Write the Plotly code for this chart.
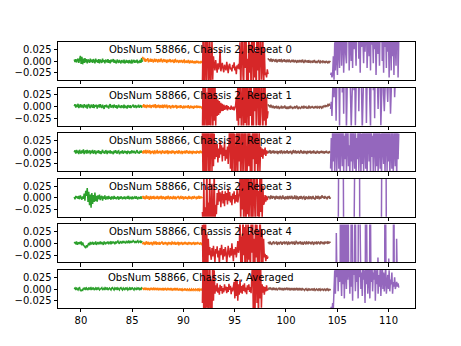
import numpy as np
import plotly.graph_objects as go
from plotly.subplots import make_subplots

# segment boundaries along x
SEG_BOUNDS = [79.35, 86.0, 91.85, 98.25, 104.35, 111.0]
SEG_COLORS = ["#2ca02c", "#ff7f0e", "#d62728", "#8c564b", "#9467bd"]
TITLES = ["ObsNum 58866, Chassis 2, Repeat 0", "ObsNum 58866, Chassis 2, Repeat 1",
          "ObsNum 58866, Chassis 2, Repeat 2", "ObsNum 58866, Chassis 2, Repeat 3",
          "ObsNum 58866, Chassis 2, Repeat 4", "ObsNum 58866, Chassis 2, Averaged"]
X_TICKS = [80, 85, 90, 95, 100, 105, 110]
Y_TICKS = [-0.025, 0.0, 0.025]
Y_TICK_TEXT = ["\u22120.025", "0.000", "0.025"]

# values in units of 1e-3
G0 = [3, -2, 4, -3, 2, 5, -4, 8, 11, -6, 9, -7, 5, -4, 6, -3, 4, -5, 3, 1, -4, 5, -2, 3, -4, 4, 0, -5, 5, -2, 2, -4, 4, -5, 3, -1, -4, 5, -2, 2, -5, 3, 0, -3, 4, -4, 2, -5, 3, -2, 1, 4, -4, 2, -3, -5, 3, 0, -4, 2, -3, -5, 2, -1, -4, 3, -5, -2, 2, -4, 1, -5, 2, -3, -4, 3, -5, 0, 2, -4, 1, -3, 3, -5, 0, -2, 2, -4, 6, -2]
O0 = [9, 4, 7, -1, 5, -2, 4, 1, 6, -3, 3, -1, 5, -2, 4, 2, -3, 3, 5, -2, 2, 4, -1, -3, 4, 1, -2, 3, 5, -1, -3, 2, 4, -2, 0, 3, -4, 2, 3, -2, 0, 4, -3, 2, -2, 3, -1, -4, 2, 3, -3, 0, 2, -2, -4, 2, -1, -3, 2, -2, -4, 1, 2, -3, -2, 1, -4, -2, 2, -3, -5, 0, -1, -4, 1, -3, -2, -5, 0, -3, -1, -4, 0, -2, -5, -1, -3, 0, -4, -2]
R0 = [-50, 70, -90, 40, 85, -70, 20, 95, -60, -20, 60, -85, 30, 50, -40, 10,
      -8, -20, 2, -15, -25, -5, -18, -10, 25, -22, -12, -4, -16, -24, -8, -14, -20, -2, -12, -26, -10, -6, -18, -14, -22, -8, -15, -3, -20, -12, -28, -9, -16, -6, -18,
      40, -60, 15, 80, -30, -55, 70, -15, 90, -45, 5, -80, 60, -25, 35, -70, 85, -10, -50, 65, -35, 20, -90, 75, -20, 50, -65, 10, 80, -40, -15, 55, -75, 30, -30,
      -25, -35, -18, -28]
B0 = [6, 2, 4, -1, 5, 1, -2, 4, 0, 3, -2, 4, 1, -3, 3, -1, 4, -2, 2, 3, -3, 2, -1, 4, -2, 2, -3, 3, 0, -2, 3, 1, -3, 0, 2, -2, 3, -3, 0, 2, -2, -4, 2, -1, -3, 2, -2, 0, -3, 3, -2, -4, 0, 2, -3, -1, 1, -4, 2, -2, -3, 0, -1, -4, 1, -3, 2, -2, -4, 0, -3, -1, 2, -3, -4, 0, -2, -3, 1, -2, -4, 0, -3, -1, -2, -4, 0, -3, -1, -2]
P0 = [-30, -25, -35, -28, 10, -40, 40, -20, 70, 5, -30, 90, 20, -15, 60, 110, -10, 45, 80, -25, 30, 100, 15, -5, 70, 50, 120, -20, 35, 85, 0, 60, -15, 95, 25, 140, 40, -10, 75, 55, 110, 5, 65, -25, 90, 30, 130, 45, -5, 80, 20, 60, 100, -15, 50, 85, 10, 70, -20, 120, 35, 55, -5, 90, 25, 75, -30, 45, 105, 15, 65, -10, 85, 40, 130, 0, 55, -25, 95, 30, 70, -15, 110, 20, 60, -35, 80, 45, -20, 100, 10, 65, -30, 90, 40, -10, 75, 120, -35, 50]

G1 = [1, 5, -2, 4, -1, 6, -3, 3, 5, -2, 4, 0, -3, 5, 1, -2, 4, -4, 3, 5, -1, -3, 4, 1, -2, 5, -3, 3, 0, 4, -4, 2, 3, -2, 5, 0, -3, 4, 1, -5, 3, -1, 4, -2, 2, -4, 3, 5, -2, 0, 3, -3, 4, 1, -2, 3, -4, 0, 4, -2, 2, -3, 3, -1, -2, 4, -3, 2, 0, -4, 3, 1, -2, 3, -3, 0, 2, 4, -2, 1, 3, -3, 2, -1, 4, -2, 1, 3, -1, 0]
O1 = [3, -1, 5, -2, 3, 1, -3, 4, -1, 3, -2, 4, 1, -3, 3, -1, 4, -2, 2, 5, -3, 0, 3, -2, 4, 1, -3, 3, -1, -2, 4, -3, 2, 3, -2, 0, 4, -4, 2, -1, 3, -2, -3, 2, 0, 3, -3, 2, -2, 1, 3, -4, 2, -2, 0, 2, -3, 3, -2, 0, -4, 2, -1, -3, 2, -2, 1, -3, 3, -2, -4, 0, 2, -3, 1, -2, -4, 2, -2, 0, 1, -3, 2, -2, 0, -3, 1, -1, -3, 0]
R1 = [-60, 80, -90, 50, 95, -70, 30, -85, 65, -40, 90, -55, 20, 75, -80, 45, -30, 60, -45, 25, -20,
      15, -18, 12, -14, 8, -10, 6, -9, 4, -7, 2, -6, 3, -8, 1, -5, -2, -7, 2, -4, -6, 0, -8, -3, 3,
      20, -30, 45, -60, 85, -25, 70, -90, 15, 60, -50, 95, -35, 40, -75, 80, 10, -65, 55, -20, 90, -45, 30, -85, 65, -10, 75, -55, 25, 85, -40, 50, -70, 35, 95, -15, -60, 70, -30, 45, -80, 20, -25, -10]
B1 = [5, 1, 3, -2, 4, 0, -3, 2, -2, -4, 1, -3, 2, -4, -1, 0, -5, -1, -3, 2, -4, 0, -3, -1, 2, -4, -2, -5, 0, -3, -1, -4, 2, -3, 0, -5, -1, -3, 1, -4, -2, 2, -3, -5, 0, -2, -4, -3, 1, -1, -4, 2, -3, -1, 0, -4, -2, -3, 2, -1, -4, 0, -3, 1, -2, -4, -1, -3, 1, -2, -4, 0, -2, -3, 1, -1, -3, 0, -2, 1, 0, 2, -1, 3, 1, 4, 2, 5, 3, 4]
P1 = [-5, 10, -20, 40, 80, 20, 110, 60, -30, 90, 130, 45, 75, -45, 100, 55, 140, 30, 85, -15, 120, 65, 95, -50, 70, 110, 40, 135, 80, 20, -45, 90, 60, 125, 35, 100, -40, 75, 115, 50, 140, -10, 85, 60, 120, 30, -50, 95, 70, 130, 45, 105, -35, 80, 140, 55, 95, 10, -45, 120, 65, 100, 35, 85, -25, 130, 75, 110, 50, -5, 90, 140, 60, -40, 105, 80, 125, 25, -10, 95, 70, 115, 40, 10, 85, 130, 55, -15, 100, 75, 120, 45, 90, 20, 110, 65, 135, 50, 80, 60]

G2 = [0, 4, -3, 5, -2, 3, -4, 5, 0, -3, 4, -2, 6, -4, 2, 3, -3, 5, -2, 0, 4, -4, 3, -2, 5, -3, 2, 4, -4, 0, 3, -2, 4, -3, 2, -4, 3, 5, -2, 0, -3, 4, 2, -4, 3, 0, -2, 4, -3, 2, 0, -4, 3, -2, 4, 0, -3, 2, 3, -4, 0, 2, -2, 4, -3, 0, 3, -2, 2, -4, 3, 0, -2, 2, -3, 4, 0, -2, 3, 0, -3, 2, 4, -2, 1, -3, 3, -1, 2, 0]
O2 = [2, -3, 4, 0, -2, 5, -3, 2, 3, -2, 0, 4, -4, 2, -2, 3, 0, -4, 4, 2, -2, 0, 5, -3, 2, -2, 3, 0, -4, 2, 4, -2, 0, -3, 3, -2, 2, 4, -4, 3, -2, 2, 0, -3, 4, -2, 3, 0, -4, 2, -2, 3, 0, -3, 4, 2, -2, 0, 3, -4, 2, 0, -2, 3, -3, 2, 4, -2, 0, -3, 3, -2, 2, 0, -4, 3, 0, -2, 2, 0, -3, 3, -1, 2, -3, 1, 3, -2, 0, 2]
R2 = [45, -80, 95, -60, 70, -90, 35, 85, -50, 60, -75, 25, 90, -40, 55, -30, 40,
      -15, 20, -10, 18, -22, 8, -12, 25, -5, 15, -20, 10, -8, 22, -18, 5, -14, 12, -25, 30,
      60, -35, 80, -70, 20, 95, -55, 40, -90, 15, 70, -45, 85, -20, 50, -80, 30, 90, -60, 10, 75, -40, 55, -95, 25, 65, -30, 85, -50, 35, -75, 90, -15, 45, -85, 60, -25, 80, -65, 20, 50, -40,
      12, -10, 8, -14, 6, -5, 10, -8, 4, -3, 2]
B2 = [3, -2, 2, 4, -3, 0, 3, -2, 4, -3, 2, 0, -2, 3, -4, 2, 0, 3, -3, 4, 2, -2, 0, 3, -3, 2, -2, 4, 0, -3, 2, -2, 3, 0, -4, 2, 3, -2, 0, 4, -3, 2, -2, 3, 0, -3, 2, 4, -2, 0, -3, 3, -2, 2, 0, -4, 3, -2, 2, 0, 3, -3, 0, 2, -2, 4, -2, 0, -3, 2, 3, -2, 0, -3, 2, 0, 3, -2, 2, 0, -3, 2, 0, 3, -2, 1, -3, 2, 0, 1]
P2 = [-35, 30, -45, 55, -20, 70, -50, 25, 90, -40, 10, 65, -35, 45, -55, 80, 20, -30, 60, -45, 35, -15, 95, -50, 25, 70, -30, 15, -55, 85, -20, 45, -45, 60, 0, -35, 75, -50, 30, -15, 65, -40, 20, 100, -55, 40, -25, 55, -45, 80, 10, -35, 60, -50, 25, 90, -20, 45, -55, 70, -10, 35, -45, 85, 15, -40, 55, -30, 75, -50, 20, 60, -35, 40, -55, 95, 5, -25, 65, -45, 30, 80, -40, 50, -20, 70, -50, 15, 60, -35, 85, -45, 25, 55, -30, 45, -55, 75, -15, 40]

G3 = [2, -3, 4, 0, 3, -2, 4, -3, 5, 1, -4, 3, -2, 9, -6, 15, 4, 21, -9, 13, -16, 7, -21, 10, -13, 6, -9, 11, -7, 4, -8, 5, -3, 7, -5, 2, 4, -6, 3, -2, 5, -4, 0, 3, -3, 4, -2, 2, -4, 3, 0, -3, 4, -2, 2, -3, 0, 3, -4, 2, -2, 3, 0, -3, 2, -2, 3, -3, 0, 2, -2, 4, -3, 0, 2, -3, 3, -2, 0, 2, -2, 3, -1, -3, 2, 0, -2, 3, -1, 0]
O3 = [0, 4, -2, 3, -3, 2, 5, -2, 0, 3, -4, 2, 4, -3, 0, 3, -2, 4, -3, 0, 2, -2, 4, 0, -3, 3, -2, 2, 4, -3, 0, 3, -2, 2, -4, 3, 0, -2, 4, 2, -3, 0, 3, -2, 2, -3, 4, 0, -2, 3, -3, 2, 0, 4, -2, -3, 2, 3, -2, 0, 3, -4, 2, 0, 3, -2, 2, -3, 0, 4, -2, 2, 0, -3, 3, 0, -2, 4, 0, 2, -3, 3, -2, 1, 4, -2, 0, 3, -1, 2]
R3 = [-30, -70, 40, -95, -20, -60, 80, -85, -10, -50, 55, -90, -25, 30, -75, -40, 65, -55, -15, -35,
      10, -15, 18, -8, 12, -20, 5, 15, -12, 8, -18, 14, -5, 10, -14, 20, -6, 12, -10, 4, -16, 9, -3, 14, -12, 6, -8, 18, -10, 3, 12,
      40, -55, 75, -25, 95, -80, 20, 65, -90, 45, -35, 85, -60, 10, 70, -45, 55, -95, 30, 80, -20, -70, 50, 90, -40, 15, -85, 60, -30, 75, -50, 25, -15,
      -10, 6, -8, 4, -5, 2]
B3 = [4, 0, 3, -3, 5, 2, -2, 4, 0, 3, -4, 2, 4, -2, 3, 0, -3, 4, 2, -3, 0, 5, -2, 2, -4, 3, 0, -2, 4, -3, 2, 3, -2, 0, 4, -3, 2, -2, 5, 0, -3, 3, 2, -4, 0, 3, -2, 4, 0, -3, 2, 3, -2, -4, 3, 0, 2, -3, 4, -2, 0, 3, -3, 2, 4, -2, 0, -4, 3, 2, -2, 4, 0, -3, 3, -2, 2, 5, 0, 3, -2, 4, -1, 2, -3, 3, 0, 4, -2, 1]
P3 = [-280, -310, -260, -300, -290, -270, -320, -300, -285, -310, -275,
      290, 310, 280, 300, 320, 295, 285,
      -300, -320, -280, -260, -300, -310, -270, -295, -315, -280, -300, -265, -305, -290, -310,
      -27,
      300, 320, 290, 310, 280, 305, 295,
      -300, -280, -310, -290, -260, -300, -320, -280, -300, -270, -310, -290, -300, -280, -260, -305, -295, -315, -285, -300, -270, -310, -290, -300, -280, -320, -300, -275, -295, -310,
      300, 310, 290, 320, 285, 305, 295,
      -300, -280, -310, -290, -270, -300, -320, -285, -295, -310, -275, -300, -290, -315, -280, -300, -305, -290]

G4 = [0, 3, -2, 4, -3, 2, 0, 3, -2, 4, -4, 2, -3, -6, -8, -10, -4, -8, -3, 1, -4, 3, -2, 0, 3, -3, 2, -2, 4, -3, 0, 3, -2, 2, 4, -2, 3, 0, -3, 4, 2, -2, 3, 0, 4, -2, 2, 3, -2, 4, 0, 3, 2, -2, 4, 0, 3, 5, 1, -1, 4, 3, 0, 5, 1, 4, 2, 0, 5, 3, 1, 6, 2, 4, 1, 5, 2, 6, 3, 2, 5, 1, 4, 6, 2, 3, 5, 1, 4, 3]
O4 = [2, -2, 3, 0, -3, 2, 4, -2, 0, 3, -3, 2, -2, 3, 0, -4, 2, 3, -2, 0, 4, -3, 2, 0, -2, 3, -3, 2, 0, 4, -2, -3, 2, 0, 3, -2, 2, -4, 0, 3, -2, 2, 0, -3, 3, 2, -2, 0, 3, -3, 2, -2, 0, 3, -4, 2, 0, -2, 3, 0, -3, 2, -2, 3, 0, -2, 2, -3, 0, 3, -2, 2, 0, -3, 2, -2, 3, 0, -3, 2, 0, -2, 3, -1, 1, -3, 2, 0, -2, 1]
R4 = [40, -90, 70, -60, 85, -40, 20, -75, 10,
      -25, -8, -20, -35, -10, -28, -5, -18, -40, -12, -22, -6, -30, -15, -45, -10, -25, -3, -20, -35, -12, -28, -8, -18, -42, -15, -5, -22, -30, -10, -26, 0, -18, -38, -12, -24, -8, -30, -16, 5, -20, -10,
      60, -40, 15, -70, 80, -25, 35, -90, 50, -10, -60, 75, -35, 20, -80, 45, -20, 90, -55, 10, -85, 65, -30, 40, -70, 25, -50, 85, -15, -65, 30, -45, 10,
      -30, -22, -38, -25, -33, -28]
B4 = [0, 3, -2, 4, 1, -3, 0, 3, 4, -2, 2, 0, 4, -3, 2, 3, -2, 0, 4, 1, -3, 3, 0, 4, -2, 2, 3, 0, -3, 4, 2, -2, 3, 0, 4, -2, 2, 3, -3, 0, 4, 2, -2, 3, 0, 2, 4, -2, 0, 3, -3, 2, 4, 0, -2, 3, 2, -2, 4, 0, 3, -2, 2, 4, 0, -3, 3, 2, 0, 4, -2, 2, 3, 0, -2, 4, 2, 0, 3, 1, -2, 4, 0, 2, 3, -1, 4, 1, 2, 3]
P4 = [-300, -280, -310, -290, -270, -300, -320, -285,
      22,
      -300, -290, -310, -280, -300,
      300, -300, 280, -260, 310, -290, 270, -310, 300, -280, 290, -300,
      -310, -290, -270, 300, -300, -280, -310, -290, 280, -300, -320, -285, -295, 300,
      -310, -275, -300, -290, -315, -280, -300, -305, -290, 300,
      -300, -280, -310, -290, -270, 250,
      -300, -320, -280, -300, -270, -310, -290, -300, -280, -260, -30,
      -305, -295, -315, -285, -300, -270, -310, -290, -300, 300,
      -280, -320, -300, -275, -32,
      -295, -310, -300, -280, -310, -290, 300,
      -300, -280, -310, 10, -290, -300, -285]

G5 = [0, 2, -2, 3, 0, -2, 2, 3, -3, -4, -2, -3, 2, 0, 3, -2, 2, 0, -2, 3, 0, 2, -2, 2, 0, 3, -2, 0, 2, -2, 3, 0, 2, -2, 0, 2, 3, -2, 0, 2, -2, 2, 0, 3, -2, 0, 2, 0, -2, 2, 3, 0, -2, 2, 0, 3, -2, 2, 0, -2, 2, 3, 0, -2, 2, 0, -2, 3, 0, 2, -2, 0, 2, -2, 3, 0, 2, 0, -2, 2, 1, -2, 2, 0, 3, -1, 1, -2, 2, 0]
O5 = [0, 2, -2, 0, 3, -2, 2, 0, -2, 2, 0, -3, 2, 0, 2, -2, 0, 3, -2, 0, 2, -2, 0, 2, -3, 0, 2, -2, 0, -2, 2, -3, 0, -2, 2, 0, -3, 0, 2, -2, 0, -2, 2, -3, 0, -2, 0, -2, 2, -3, 0, -2, 2, -3, -1, 0, -3, 1, -2, 0, -3, -1, 0, -3, 1, -2, -3, 0, -1, -3, 0, -2, -4, 0, -1, -3, 0, -2, -3, 0, -1, -3, 1, -2, 0, -3, -1, 0, -2, -1]
R5 = [-30, 70, -90, 50, -60, 85, -40, 95, -75, 30, 60, -85, 20, -50, 75, -25, 40,
      -10, 8, -5, 12, -8, 3, -12, 9, -4, 6, -10, 2, -7, 10, -3, 5, -9, 4, -6, 11, -2, 7, -11, 3, -5, 8,
      15, -20, 22, -15, 18, -25, 10, -12, 20, -8,
      6, -10, 9, -4, 12, -7, 3, -11, 8, -2, 10, -6, 4, -9, 15,
      60, -50, 85, -80, 20, 95, -30, 45, -70, 75, -20, 50, -40,
      10, -8, 6, -12, 4, -5, 8, -3, 0]
B5 = [2, 0, 3, -1, 2, 0, -2, 3, 0, 2, -2, 0, 2, -3, 0, 2, 3, -2, 2, 0, -2, 2, -3, 0, 2, -2, 0, 3, -2, 0, 2, -3, 0, -2, 2, -2, 0, -3, 2, -2, 0, 2, -3, 0, -2, 2, -2, 0, -3, 1, 0, -2, -3, 0, 1, -2, -3, 0, -2, 1, -3, -1, 0, -3, 1, -2, 0, -3, -1, 0, -2, -3, 1, -2, 0, -3, -1, 0, -2, -3, 0, -1, -3, 1, -2, 0, -3, -1, -2, 0]
P5 = [-45, -38, -50, -30, -42, 5, 40, -10, 60, 25, 80, -5, 45, 15, 95, 30, -15, 70, 10, 55, -20, 85, 35, 0, 65, 20, 110, 40, -10, 75, 5, 50, -25, 90, 30, 60, -5, 45, 15, 80, -20, 55, 25, 100, 0, 35, -15, 70, 20, 40, -30, 60, 10, 85, -10, 30, 50, -20, 45, 15, 65, -5, 35, 20, 75, -25, 40, 10, 55, -10, 30, 5, 45, -15, 25, 60, 0, 35, -5, 20, 50, -10, 15, 30, 0, 40, -5, 20, 10, 35, -10, 15, 5, 25, 0, 10, 15, 5, 12, 3]

PANELS = [
    [G0, O0, R0, B0, P0],
    [G1, O1, R1, B1, P1],
    [G2, O2, R2, B2, P2],
    [G3, O3, R3, B3, P3],
    [G4, O4, R4, B4, P4],
    [G5, O5, R5, B5, P5],
]
SCALE = 1e-3

fig = make_subplots(rows=6, cols=1, shared_xaxes=True, vertical_spacing=0.2 / 7)

for r, segs in enumerate(PANELS, start=1):
    for k, vals in enumerate(segs):
        x = np.linspace(SEG_BOUNDS[k], SEG_BOUNDS[k + 1], len(vals))
        y = np.array(vals, dtype=float) * SCALE
        fig.add_trace(go.Scatter(x=x, y=y, mode="lines",
                                 line=dict(color=SEG_COLORS[k], width=1.5),
                                 showlegend=False, hoverinfo="skip"), row=r, col=1)
    fig.add_annotation(text=TITLES[r - 1], xref="x domain" if r == 1 else f"x{r} domain",
                       yref="y domain" if r == 1 else f"y{r} domain",
                       x=0.4, y=1.0, xanchor="center", yanchor="top", showarrow=False,
                       font=dict(family="DejaVu Sans", size=10, color="black"))

span = SEG_BOUNDS[-1] - SEG_BOUNDS[0]
xr = [SEG_BOUNDS[0] - 0.05 * span, SEG_BOUNDS[-1] + 0.05 * span]
for r in range(1, 7):
    fig.update_xaxes(range=xr, tickvals=X_TICKS, ticktext=[str(v) for v in X_TICKS],
                     showticklabels=(r == 6), ticks="outside", ticklen=3.5, tickwidth=0.8,
                     tickcolor="black", showline=True, linecolor="black", linewidth=0.8,
                     mirror=True, showgrid=False, zeroline=False, row=r, col=1)
    fig.update_yaxes(range=[-0.0405, 0.0405], tickvals=Y_TICKS, ticktext=Y_TICK_TEXT,
                     ticks="outside", ticklen=3.5, tickwidth=0.8, tickcolor="black",
                     showline=True, linecolor="black", linewidth=0.8, mirror=True,
                     showgrid=False, zeroline=False, row=r, col=1)

fig.update_layout(width=461, height=346, plot_bgcolor="white", paper_bgcolor="white",
                  margin=dict(l=57.6, r=46.1, t=41.5, b=38.1, pad=0),
                  font=dict(family="DejaVu Sans", size=10, color="black"))

fig.write_html("out.html")
